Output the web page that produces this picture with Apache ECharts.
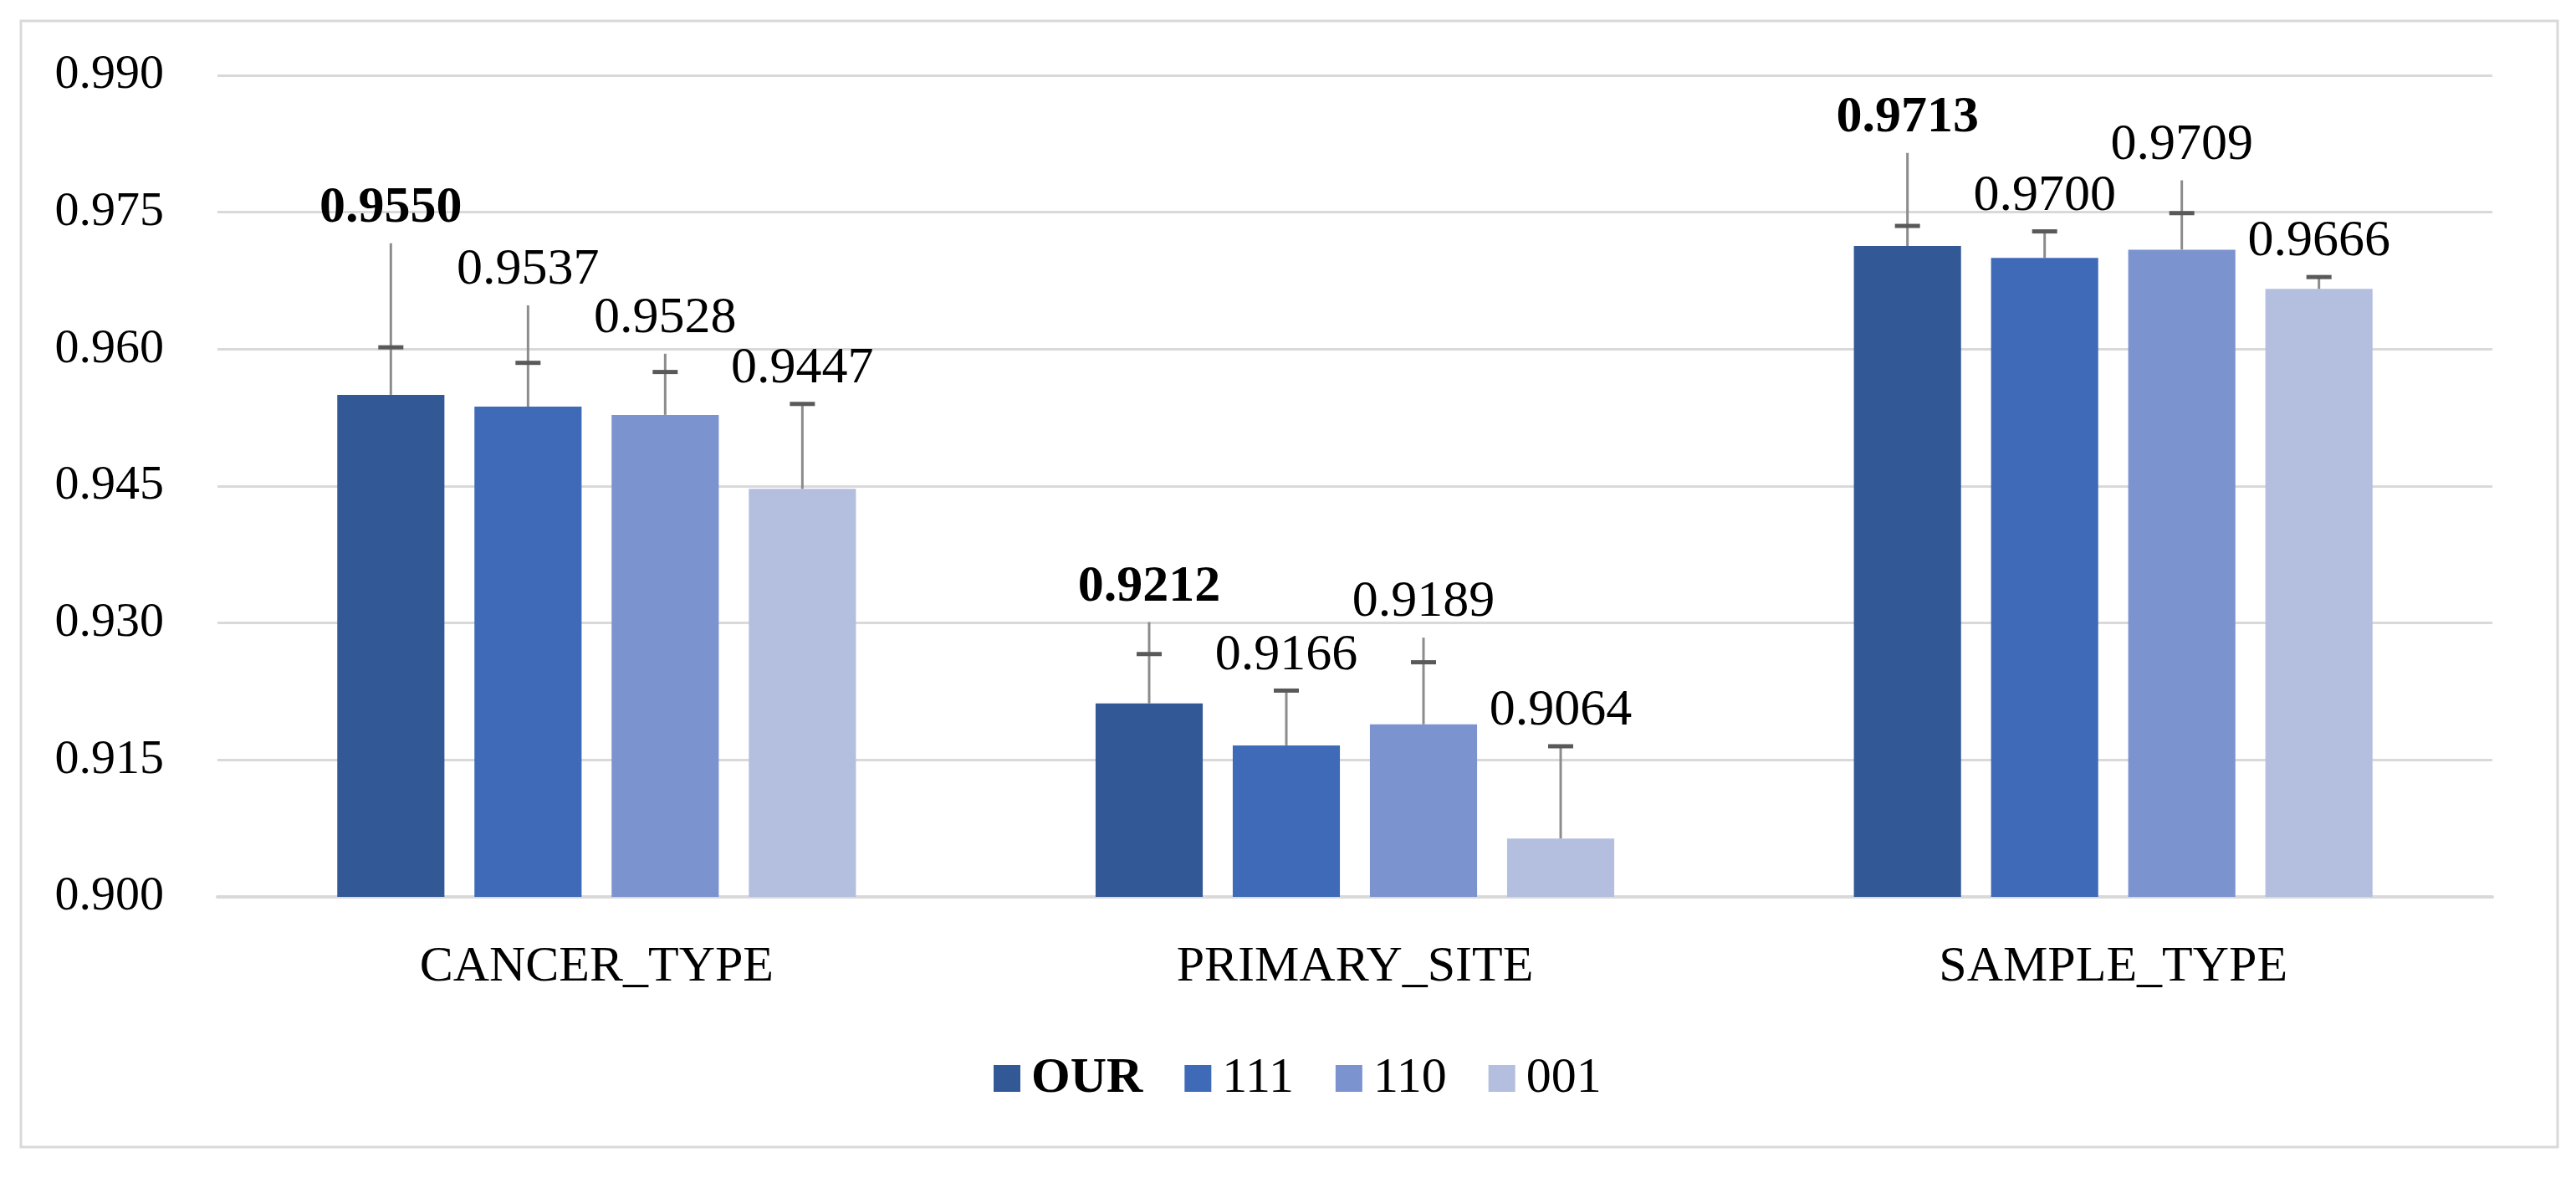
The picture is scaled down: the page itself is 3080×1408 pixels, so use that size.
<!DOCTYPE html>
<html>
<head>
<meta charset="utf-8">
<script src="https://cdn.jsdelivr.net/npm/echarts@6/dist/echarts.min.js"></script>
<style>html,body{margin:0;padding:0;background:#fff;}#c{width:3080px;height:1408px;}</style>
</head>
<body>
<div id="c"></div>
<script>
const categories = ['CANCER_TYPE', 'PRIMARY_SITE', 'SAMPLE_TYPE'];
const seriesNames = ['OUR', '111', '110', '001'];
const valOUR = [0.9550, 0.9212, 0.9713];
const val111 = [0.9537, 0.9166, 0.9700];
const val110 = [0.9528, 0.9189, 0.9709];
const val001 = [0.9447, 0.9064, 0.9666];
// error bar: end of whisker line
const errTopOUR = [0.9716, 0.9301, 0.9815];
const errTop111 = [0.9648, 0.9226, 0.9729];
const errTop110 = [0.9595, 0.9284, 0.9785];
const errTop001 = [0.9540, 0.9165, 0.9679];
// error bar: cap position
const errCapOUR = [0.9602, 0.9266, 0.9735];
const errCap111 = [0.9585, 0.9226, 0.9729];
const errCap110 = [0.9575, 0.9257, 0.9749];
const errCap001 = [0.9540, 0.9165, 0.9679];
const yTicks = [0.900, 0.915, 0.930, 0.945, 0.960, 0.975, 0.990];

const values = [valOUR, val111, val110, val001];
const errTops = [errTopOUR, errTop111, errTop110, errTop001];
const errCaps = [errCapOUR, errCap111, errCap110, errCap001];
const colors = ['#335896', '#3F6AB7', '#7B93CF', '#B4BFDF'];
const FONT = "'Liberation Serif', 'Times New Roman', serif";
const CAT_GAP = 0.316, BAR_GAP = 0.28;

const chart = echarts.init(document.getElementById('c'));

const barSeries = seriesNames.map((n, i) => ({
  name: n,
  type: 'bar',
  data: values[i],
  itemStyle: { color: colors[i] },
  barGap: (BAR_GAP * 100) + '%',
  barCategoryGap: (CAT_GAP * 100) + '%',
  z: 2
}));

const errSeries = seriesNames.map((n, si) => ({
  type: 'custom',
  name: n + '_err',
  z: 5,
  clip: false,
  data: categories.map((c, k) => [k, values[si][k], errTops[si][k], errCaps[si][k]]),
  encode: { x: 0, y: 1 },
  renderItem: function (params, api) {
    const k = api.value(0);
    const band = api.size([1, 0])[0];
    const groupW = band * (1 - CAT_GAP);
    const w = groupW / (4 + 3 * BAR_GAP);
    const cx = api.coord([k, 0])[0] - groupW / 2 + w / 2 + si * w * (1 + BAR_GAP);
    const yv = api.coord([k, api.value(1)])[1];
    const yt = api.coord([k, api.value(2)])[1];
    const yc = api.coord([k, api.value(3)])[1];
    return {
      type: 'group',
      children: [
        { type: 'line', shape: { x1: cx, y1: yv, x2: cx, y2: yt }, style: { stroke: '#8c8c8c', lineWidth: 3 } },
        { type: 'line', shape: { x1: cx - 15, y1: yc, x2: cx + 15, y2: yc }, style: { stroke: '#595959', lineWidth: 5 } },
        { type: 'text', style: {
            text: api.value(1).toFixed(4), x: cx, y: yt - 42,
            align: 'center', verticalAlign: 'middle',
            fontSize: 62, fontFamily: FONT, fontWeight: si === 0 ? 'bold' : 'normal', fill: '#000'
          } }
      ]
    };
  }
}));

chart.setOption({
  backgroundColor: '#ffffff',
  animation: false,
  graphic: [{
    type: 'rect', shape: { x: 25, y: 25, width: 3033, height: 1346 },
    style: { fill: 'none', stroke: '#d9d9d9', lineWidth: 3 }, z: -1
  }],
  grid: { left: 260, right: 100, top: 90, bottom: 336 },
  legend: {
    data: seriesNames,
    left: 1183,
    top: 1254,
    icon: 'rect',
    itemWidth: 32,
    itemHeight: 32,
    itemGap: 50,
    textStyle: {
      fontSize: 60, fontFamily: FONT, color: '#000', padding: [0, 0, 0, 8],
      rich: { b: { fontSize: 60, fontFamily: FONT, fontWeight: 'bold', color: '#000' } }
    },
    formatter: function (name) { return name === 'OUR' ? '{b|OUR}' : name; }
  },
  xAxis: {
    type: 'category',
    data: categories,
    axisLine: { show: true, lineStyle: { color: '#d9d9d9', width: 4 } },
    axisTick: { show: false },
    axisLabel: { fontSize: 60, fontFamily: FONT, color: '#000', margin: 54 }
  },
  yAxis: {
    type: 'value',
    min: yTicks[0],
    max: yTicks[yTicks.length - 1],
    interval: 0.015,
    axisLine: { show: false },
    axisTick: { show: false },
    splitLine: { lineStyle: { color: '#d9d9d9', width: 3 } },
    axisLabel: { fontSize: 58, fontFamily: FONT, color: '#000', margin: 64,
      formatter: v => v.toFixed(3) }
  },
  series: barSeries.concat(errSeries)
});
</script>
</body>
</html>
